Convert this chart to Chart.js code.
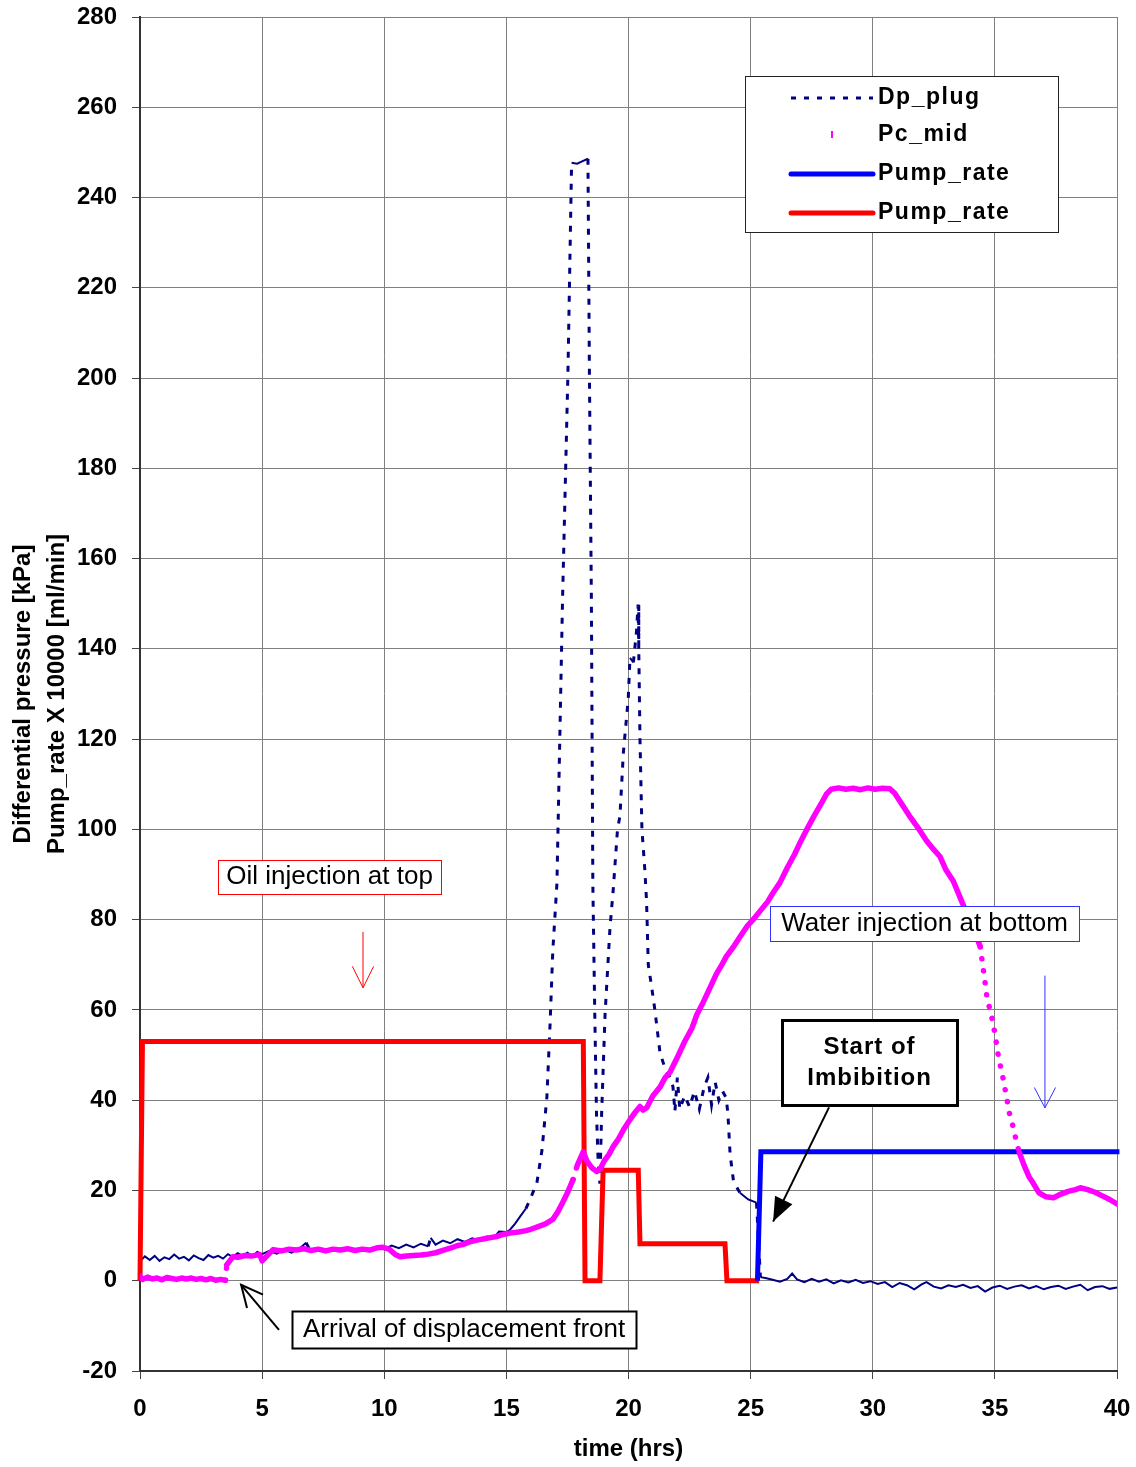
<!DOCTYPE html>
<html>
<head>
<meta charset="utf-8">
<script src="https://cdn.jsdelivr.net/npm/chart.js@4.4.1/dist/chart.umd.min.js"></script>
<style>
  html, body { margin: 0; padding: 0; background: #fff; }
</style>
</head>
<body>
<canvas id="chart-pressure" width="1136" height="1467"></canvas>
<script>
// Dp_plug (differential pressure over the plug), kPa
const dpTime = [0.0, 0.2, 0.4, 0.6, 0.8, 1.0, 1.2, 1.4, 1.6, 1.8, 2.0, 2.2, 2.4, 2.6, 2.8, 3.0, 3.2, 3.4, 3.6, 3.8,
  4.0, 4.2, 4.4, 4.6, 4.8, 5.0, 5.3, 5.6, 5.9, 6.2, 6.5, 6.8, 7.0, 7.3, 7.6, 7.9, 8.2, 8.5, 8.8, 9.1,
  9.4, 9.7, 10.0, 10.3, 10.6, 10.9, 11.2, 11.5, 11.8, 11.9, 12.1, 12.4, 12.7, 13.0, 13.3, 13.6, 13.9, 14.2, 14.5, 14.7,
  15.0, 15.15, 15.35, 15.56, 15.8, 15.97, 16.25, 16.46, 16.66, 16.79, 16.9, 17.07, 17.3, 17.52, 17.67, 17.9, 18.1, 18.34, 18.4, 18.48,
  18.54, 18.62, 18.69, 18.76, 18.83, 18.9, 19.04, 19.24, 19.38, 19.55, 19.65, 19.79, 19.99, 20.06, 20.2, 20.33, 20.39, 20.42, 20.47, 20.55,
  20.67, 20.74, 20.81, 20.95, 21.08, 21.29, 21.5, 21.7, 21.82, 21.9, 22.0, 22.1, 22.3, 22.5, 22.7, 22.9, 23.1, 23.25, 23.4, 23.55,
  23.7, 23.85, 24.0, 24.07, 24.16, 24.3, 24.56, 24.9, 25.24, 25.4, 25.6, 25.9, 26.2, 26.5, 26.7, 26.9, 27.2, 27.5, 27.8, 28.1,
  28.4, 28.7, 29.0, 29.3, 29.6, 29.9, 30.2, 30.5, 30.8, 31.1, 31.4, 31.7, 32.0, 32.2, 32.5, 32.8, 33.1, 33.4, 33.7, 34.0,
  34.3, 34.6, 34.9, 35.2, 35.5, 35.8, 36.1, 36.4, 36.7, 37.0, 37.3, 37.6, 37.9, 38.2, 38.5, 38.8, 39.1, 39.4, 39.7, 40.0];
const dpKpa = [4.3, 5.4, 4.6, 5.5, 4.4, 5.2, 4.8, 5.8, 4.9, 5.3, 4.5, 5.6, 5.0, 4.6, 5.7, 5.1, 5.5, 4.9, 5.9, 5.3,
  6.1, 5.5, 6.2, 5.4, 6.4, 5.9, 6.6, 6.0, 6.9, 6.2, 7.0, 8.4, 6.4, 7.1, 6.5, 7.2, 6.6, 7.3, 6.7, 7.2,
  6.6, 7.4, 7.0, 7.8, 7.2, 8.0, 7.4, 8.2, 7.6, 9.5, 8.0, 8.9, 8.3, 9.2, 8.6, 9.4, 8.9, 9.8, 9.6, 10.9,
  10.8, 11.3, 12.6, 14.2, 16.0, 18.0, 21.7, 29.0, 40.8, 57.0, 73.0, 88.0, 151.0, 201.0, 247.7, 247.5, 248.0, 248.6, 201.0, 151.0,
  88.0, 59.0, 37.0, 26.0, 21.5, 37.0, 59.0, 78.0, 87.0, 100.0, 103.0, 117.0, 129.0, 138.0, 137.0, 144.0, 149.8, 140.0, 120.0, 100.0,
  91.0, 84.0, 70.0, 65.0, 60.0, 50.5, 47.0, 45.0, 43.0, 37.5, 45.0, 38.0, 41.0, 38.5, 42.0, 38.0, 43.0, 45.0, 39.0, 44.0,
  40.0, 42.0, 40.5, 37.0, 28.0, 22.0, 19.5, 18.0, 17.3, 0.8, 0.6, 0.2, -0.2, 0.4, 1.6, 0.3, -0.3, 0.4, -0.2, 0.3,
  -0.6, 0.1, -0.4, 0.2, -0.5, -0.1, -0.7, -0.3, -1.4, -0.5, -1.0, -1.9, -0.8, -0.3, -1.3, -1.7, -1.0, -1.4, -0.9, -1.6,
  -1.2, -2.4, -1.5, -1.1, -1.8, -1.3, -1.0, -1.7, -1.2, -1.9, -1.4, -1.1, -1.8, -1.3, -0.9, -2.1, -1.4, -1.2, -1.8, -1.5];

// Pc_mid, kPa
const pcTime = [0.0, 0.1, 0.3, 0.5, 0.7, 0.9, 1.1, 1.3, 1.5, 1.7, 1.9, 2.1, 2.3, 2.5, 2.7, 2.9, 3.1, 3.3, 3.5, 3.55,
  3.8, 4.0, 4.3, 4.6, 4.9, 5.0, 5.2, 5.45, 5.8, 6.1, 6.4, 6.7, 7.0, 7.3, 7.6, 7.9, 8.2, 8.5, 8.8, 9.1,
  9.4, 9.7, 9.95, 10.2, 10.45, 10.65, 10.9, 11.2, 11.5, 11.8, 12.1, 12.4, 12.7, 13.0, 13.2, 13.5, 13.8, 14.1, 14.4, 14.6,
  14.9, 15.2, 15.5, 15.8, 16.0, 16.3, 16.6, 16.9, 17.1, 17.3, 17.5, 17.73, 17.9, 18.0, 18.15, 18.3, 18.5, 18.7, 18.85, 19.0,
  19.2, 19.37, 19.6, 19.8, 20.06, 20.3, 20.47, 20.6, 20.75, 21.0, 21.3, 21.5, 21.7, 22.0, 22.3, 22.6, 22.8, 23.05, 23.3, 23.6,
  23.8, 24.0, 24.3, 24.6, 24.85, 25.1, 25.4, 25.7, 25.9, 26.2, 26.5, 26.8, 27.0, 27.3, 27.6, 27.9, 28.1, 28.3, 28.6, 28.9,
  29.2, 29.5, 29.8, 30.1, 30.4, 30.7, 30.9, 31.2, 31.5, 31.9, 32.2, 32.5, 32.75, 33.0, 33.3, 33.57, 33.8, 34.0, 34.2, 34.4,
  34.5, 34.6, 34.67, 34.8, 34.93, 35.05, 35.15, 35.35, 35.5, 35.6, 35.75, 35.9, 36.0, 36.2, 36.4, 36.56, 36.8, 37.1, 37.4, 37.7,
  38.0, 38.3, 38.5, 38.8, 39.1, 39.4, 39.7, 39.85, 40.0];
const pcKpa = [1.0, 0.3, 0.8, 0.4, 0.6, 0.2, 0.7, 0.5, 0.3, 0.6, 0.4, 0.6, 0.3, 0.5, 0.2, 0.5, 0.1, 0.3, 0.1, 3.5,
  5.3, 5.2, 5.6, 5.5, 5.8, 4.4, 5.5, 6.9, 6.6, 7.0, 6.8, 7.1, 6.7, 7.0, 6.6, 7.0, 6.8, 7.1, 6.7, 7.0,
  6.8, 7.3, 7.4, 7.0, 5.8, 5.3, 5.5, 5.6, 5.7, 5.9, 6.2, 6.7, 7.2, 7.8, 8.0, 8.6, 9.0, 9.3, 9.6, 9.8,
  10.3, 10.6, 10.8, 11.1, 11.4, 12.0, 12.6, 13.6, 15.2, 17.3, 19.5, 22.4, 25.5, 26.8, 28.6, 26.5, 25.0, 24.2, 24.8, 26.5,
  28.0, 29.7, 31.5, 33.5, 35.7, 37.5, 38.6, 37.8, 38.4, 41.0, 43.0, 45.0, 46.2, 49.5, 53.0, 56.0, 59.0, 61.6, 64.5, 68.0,
  69.8, 71.8, 74.0, 76.5, 78.5, 80.0, 82.0, 84.0, 85.8, 88.2, 91.5, 94.5, 96.8, 100.0, 103.0, 105.8, 107.8, 108.9, 109.2, 108.9,
  109.1, 108.8, 109.2, 108.9, 109.1, 109.0, 108.0, 105.5, 103.0, 100.0, 97.5, 95.5, 94.0, 91.0, 88.5, 85.0, 82.0, 79.5, 77.0, 74.0,
  70.0, 66.0, 63.0, 60.0, 57.0, 53.0, 49.5, 44.5, 40.0, 37.0, 34.0, 30.5, 28.4, 25.5, 23.0, 21.7, 19.5, 18.6, 18.4, 19.2,
  19.8, 20.2, 20.6, 20.2, 19.6, 18.8, 18.0, 17.5, 17.0];

// Pump_rate x 10000 [ml/min]: oil injection (red) and water injection (blue)
const oilTime = [0, 0.1, 18.15, 18.22, 18.83, 18.96, 20.4, 20.47, 23.95, 24.03, 25.35];
const oilRate = [0, 53, 53, 0, 0, 24.5, 24.5, 8.2, 8.2, 0, 0];
const waterTime = [25.28, 25.42, 40.1];
const waterRate = [0, 28.6, 28.6];

const seriesNames = ['Dp_plug', 'Pc_mid', 'Pump_rate', 'Pump_rate'];

const toPoints = (xs, ys) => xs.map((x, i) => ({x: x, y: ys[i]}));

// a segment counts as steep when it rises faster than k px per px
function steep(c, k) {
  const dx = Math.abs(c.p1.x - c.p0.x);
  const dy = Math.abs(c.p1.y - c.p0.y);
  return dy > k * dx && dy > 6;
}

Chart.defaults.font.family = '"Liberation Sans", Arial, sans-serif';
Chart.defaults.color = '#000';

// annotation boxes, arrows and the legend drawn on top of the data
const notesPlugin = {
  id: 'notes',
  afterDatasetsDraw(chart) {
    const {ctx, chartArea} = chart;
    const X = t => chart.scales.x.getPixelForValue(t);
    const Y = v => chart.scales.y.getPixelForValue(v);

    function box(t0, t1, v0, v1, color, lw) {
      const l = Math.round(X(t0)) + 0.5, r = Math.round(X(t1)) + 0.5;
      const tp = Math.round(Y(v0)) + 0.5, b = Math.round(Y(v1)) + 0.5;
      ctx.fillStyle = '#fff';
      ctx.fillRect(l, tp, r - l, b - tp);
      ctx.strokeStyle = color;
      ctx.lineWidth = lw;
      ctx.strokeRect(l, tp, r - l, b - tp);
    }
    function label(str, x, y, font, spacing, align) {
      ctx.font = font;
      ctx.letterSpacing = spacing || '0px';
      ctx.fillStyle = '#000';
      ctx.textAlign = align || 'center';
      ctx.textBaseline = 'middle';
      ctx.fillText(str, x, y);
      ctx.letterSpacing = '0px';
    }
    function arrow(t0, v0, t1, v1, color, lw, filled, size, half) {
      const x0 = X(t0), y0 = Y(v0), x1 = X(t1), y1 = Y(v1);
      const a = Math.atan2(y1 - y0, x1 - x0);
      ctx.strokeStyle = color;
      ctx.fillStyle = color;
      ctx.lineWidth = lw;
      ctx.beginPath();
      ctx.moveTo(x0, y0);
      ctx.lineTo(x1, y1);
      ctx.stroke();
      const ax = x1 - size * Math.cos(a - half), ay = y1 - size * Math.sin(a - half);
      const bx = x1 - size * Math.cos(a + half), by = y1 - size * Math.sin(a + half);
      ctx.beginPath();
      ctx.moveTo(ax, ay);
      ctx.lineTo(x1, y1);
      ctx.lineTo(bx, by);
      if (filled) { ctx.closePath(); ctx.fill(); } else { ctx.stroke(); }
    }

    ctx.save();
    const regular = '26px "Liberation Sans", Arial, sans-serif';
    const bold = 'bold 24px "Liberation Sans", Arial, sans-serif';

    // Oil injection at top
    box(3.19, 12.32, 93.3, 85.75, '#ff0000', 1);
    label('Oil injection at top', X(7.76), Y(89.4), regular);
    arrow(9.13, 77.3, 9.13, 64.9, '#ff0000', 1, false, 24, 0.46);

    // Water injection at bottom
    box(25.79, 38.44, 83.1, 75.3, '#3333ff', 1);
    label('Water injection at bottom', X(32.12), Y(79.1), regular);
    arrow(37.05, 67.6, 37.05, 38.3, '#3333ff', 1, false, 23, 0.48);

    // Start of Imbibition
    box(26.28, 33.45, 57.8, 39.0, '#000', 3);
    label('Start of', X(29.87), Y(51.6), bold, '1px');
    label('Imbibition', X(29.87), Y(44.8), bold, '1px');
    arrow(28.21, 38.4, 25.92, 13.1, '#000', 2, true, 26, 0.38);

    // Arrival of displacement front
    box(6.22, 20.31, -6.65, -14.85, '#000', 2);
    label('Arrival of displacement front', X(13.27), Y(-10.8), regular);
    arrow(5.69, -10.9, 4.14, -0.9, '#000', 2, false, 24, 0.45);

    // legend
    const lx = chartArea.right - 372, ly = chartArea.top + 59;
    ctx.fillStyle = '#fff';
    ctx.fillRect(lx + 0.5, ly + 0.5, 313, 156);
    ctx.strokeStyle = '#222';
    ctx.lineWidth = 1;
    ctx.strokeRect(lx + 0.5, ly + 0.5, 313, 156);
    const rows = [22, 59, 98, 137];
    const sx0 = lx + 46, sx1 = lx + 128, tx = lx + 133;
    ctx.lineCap = 'butt';
    ctx.strokeStyle = '#000080';
    ctx.lineWidth = 3;
    ctx.setLineDash([5, 8]);
    ctx.beginPath(); ctx.moveTo(sx0, ly + rows[0]); ctx.lineTo(sx1, ly + rows[0]); ctx.stroke();
    ctx.setLineDash([]);
    ctx.strokeStyle = '#ff00ff';
    ctx.lineWidth = 2;
    ctx.beginPath(); ctx.moveTo(lx + 87, ly + rows[1] - 4); ctx.lineTo(lx + 87, ly + rows[1] + 3); ctx.stroke();
    ctx.lineCap = 'round';
    ctx.lineWidth = 5;
    ctx.strokeStyle = '#0000ff';
    ctx.beginPath(); ctx.moveTo(sx0, ly + rows[2]); ctx.lineTo(sx1, ly + rows[2]); ctx.stroke();
    ctx.strokeStyle = '#ff0000';
    ctx.beginPath(); ctx.moveTo(sx0, ly + rows[3]); ctx.lineTo(sx1, ly + rows[3]); ctx.stroke();
    const legendFont = 'bold 23px "Liberation Sans", Arial, sans-serif';
    seriesNames.forEach((name, i) => label(name, tx, ly + rows[i], legendFont, '1.5px', 'left'));

    ctx.restore();
  }
};

const chartPressure = document.getElementById('chart-pressure');

new Chart(chartPressure, {
  type: 'line',
  data: {
    datasets: [{
      label: seriesNames[0],
      data: toPoints(dpTime, dpKpa),
      borderColor: '#000080',
      borderWidth: 2,
      order: 2,
      segment: {
        borderDash: c => steep(c, 1.5) ? [6, 8] : [],
        borderWidth: c => steep(c, 1.5) ? 3 : 2
      }
    }, {
      label: seriesNames[1],
      data: toPoints(pcTime, pcKpa),
      borderColor: '#ff00ff',
      borderWidth: 5.5,
      borderCapStyle: 'round',
      borderJoinStyle: 'round',
      order: 0,
      segment: {
        borderDash: c => steep(c, 3) ? [0.1, 12] : []
      }
    }, {
      label: seriesNames[2],
      data: toPoints(waterTime, waterRate),
      borderColor: '#0000ff',
      borderWidth: 5,
      clip: false,
      order: 1
    }, {
      label: seriesNames[3],
      data: toPoints(oilTime, oilRate),
      borderColor: '#ff0000',
      borderWidth: 5,
      clip: false,
      order: 1
    }]
  },
  options: {
    responsive: false,
    animation: false,
    events: [],
    layout: { padding: { left: 0, right: 19, top: 17, bottom: 0 } },
    elements: { point: { radius: 0 }, line: { tension: 0 } },
    plugins: { legend: { display: false }, tooltip: { enabled: false } },
    scales: {
      x: {
        type: 'linear',
        min: 0,
        max: 40,
        afterFit: s => { s.height = 96; s.paddingLeft = 0; s.paddingRight = 0; },
        ticks: { stepSize: 5, autoSkip: false, maxRotation: 0, padding: 16, color: '#000',
                 font: { size: 24, weight: 'bold' } },
        grid: { color: '#808080', tickLength: 8, tickColor: '#444' },
        border: { color: '#333', width: 2 },
        title: { display: true, text: 'time (hrs)', color: '#000',
                 font: { size: 24, weight: 'bold' }, padding: { top: 0, bottom: 3 } }
      },
      y: {
        min: -20,
        max: 280,
        afterFit: s => { s.width = 140; s.paddingTop = 0; s.paddingBottom = 0; },
        ticks: { stepSize: 20, autoSkip: false, padding: 15, color: '#000',
                 font: { size: 24, weight: 'bold' } },
        grid: { color: '#808080', tickLength: 8, tickColor: '#444' },
        border: { color: '#333', width: 2 },
        title: { display: true, text: ['Differential pressure [kPa]', 'Pump_rate X 10000 [ml/min]'],
                 color: '#000', font: { size: 24, weight: 'bold', lineHeight: 1.42 },
                 padding: { top: 6, bottom: 0 } }
      }
    }
  },
  plugins: [notesPlugin]
});
</script>
</body>
</html>
